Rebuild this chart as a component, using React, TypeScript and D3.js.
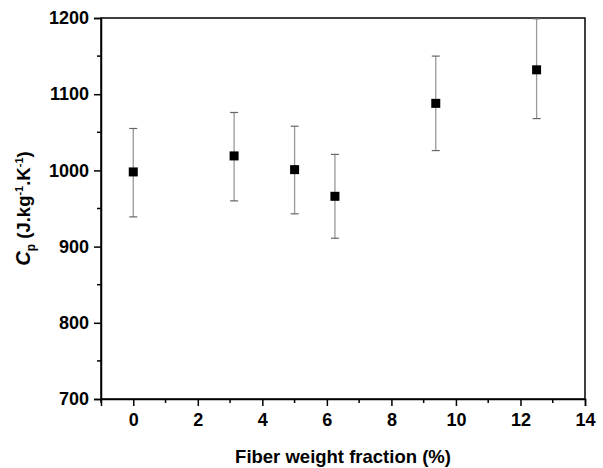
import React, { useEffect, useRef } from 'react';
import * as d3 from 'd3';

// fiber weight fraction (%)
const fractions = [0, 3.125, 5, 6.25, 9.375, 12.5];
// specific heat Cp (J/kg.K)
const cpValues = [998, 1019, 1001, 966, 1088, 1132];
const cpUpper = [1055, 1076, 1058, 1021, 1150, 1199];
const cpLower = [939, 960, 943, 911, 1026, 1068];

const xTicks = [0, 2, 4, 6, 8, 10, 12, 14];
const yTicks = [700, 800, 900, 1000, 1100, 1200];
const xMinor = [-1, 1, 3, 5, 7, 9, 11, 13];
const yMinor = [750, 850, 950, 1050, 1150];

const App: React.FC = () => {
  const svgRef = useRef<SVGSVGElement>(null);

  useEffect(() => {
    if (!svgRef.current) return;
    const svg = d3.select(svgRef.current);
    svg.selectAll('*').remove();

    const width = 603;
    const height = 468;
    const margin = { top: 18, right: 18, bottom: 69, left: 101 };
    const font = 'Arial, "Liberation Sans", sans-serif';

    const x = d3.scaleLinear()
      .domain([-1, 14])
      .range([margin.left, width - margin.right]);

    const y = d3.scaleLinear()
      .domain([700, 1200])
      .range([height - margin.bottom, margin.top]);

    // frame
    svg.append('rect')
      .attr('x', x(-1))
      .attr('y', y(1200))
      .attr('width', x(14) - x(-1))
      .attr('height', y(700) - y(1200))
      .attr('fill', 'none')
      .attr('stroke', '#000')
      .attr('stroke-width', 1.5);

    // X axis
    const gx = svg.append('g')
      .attr('transform', `translate(0,${y(700)})`);
    gx.call(d3.axisBottom(x).tickValues(xTicks).tickSize(7).tickPadding(7).tickFormat(d3.format('d')))
      .call(g => g.select('.domain').attr('stroke-width', 1.5));
    gx.selectAll('.tick line').attr('stroke-width', 1.5);
    gx.selectAll('.tick text')
      .attr('font-family', font)
      .attr('font-size', 18)
      .attr('font-weight', 'bold')
      .attr('fill', '#000');
    gx.selectAll('.minor')
      .data(xMinor)
      .enter()
      .append('line')
      .attr('x1', d => x(d))
      .attr('x2', d => x(d))
      .attr('y1', 0)
      .attr('y2', 4)
      .attr('stroke', '#000')
      .attr('stroke-width', 1.5);

    // Y axis
    const gy = svg.append('g')
      .attr('transform', `translate(${x(-1)},0)`);
    gy.call(d3.axisLeft(y).tickValues(yTicks).tickSize(7).tickPadding(5).tickFormat(d3.format('d')))
      .call(g => g.select('.domain').attr('stroke-width', 1.5));
    gy.selectAll('.tick line').attr('stroke-width', 1.5);
    gy.selectAll('.tick text')
      .attr('font-family', font)
      .attr('font-size', 18)
      .attr('font-weight', 'bold')
      .attr('fill', '#000');
    gy.selectAll('.minor')
      .data(yMinor)
      .enter()
      .append('line')
      .attr('x1', 0)
      .attr('x2', -4)
      .attr('y1', d => y(d))
      .attr('y2', d => y(d))
      .attr('stroke', '#000')
      .attr('stroke-width', 1.5);

    // axis titles
    svg.append('text')
      .attr('x', (x(-1) + x(14)) / 2)
      .attr('y', 463)
      .attr('text-anchor', 'middle')
      .attr('font-family', font)
      .attr('font-size', 18.5)
      .attr('font-weight', 'bold')
      .attr('fill', '#000')
      .text('Fiber weight fraction (%)');

    const yl = svg.append('text')
      .attr('transform', `translate(30,${(y(700) + y(1200)) / 2}) rotate(-90)`)
      .attr('text-anchor', 'middle')
      .attr('font-family', font)
      .attr('font-size', 18.5)
      .attr('font-weight', 'bold')
      .attr('fill', '#000');
    yl.append('tspan').attr('font-style', 'italic').attr('font-size', 20).text('C');
    yl.append('tspan').attr('font-size', 12).attr('dy', 5).text('p');
    yl.append('tspan').attr('dy', -5).text(' (J.kg');
    yl.append('tspan').attr('font-size', 11).attr('dy', -7).text('-1');
    yl.append('tspan').attr('dy', 7).text('.K');
    yl.append('tspan').attr('font-size', 11).attr('dy', -7).text('-1');
    yl.append('tspan').attr('dy', 7).text(')');

    const data = fractions.map((f, i) => ({
      f, v: cpValues[i], hi: cpUpper[i], lo: cpLower[i],
    }));

    // error bars
    const eb = svg.append('g');
    eb.selectAll('line.stem')
      .data(data)
      .enter()
      .append('line')
      .attr('x1', d => x(d.f))
      .attr('x2', d => x(d.f))
      .attr('y1', d => y(d.hi))
      .attr('y2', d => y(d.lo))
      .attr('stroke', '#999')
      .attr('stroke-width', 1.3);
    const capW = 4;
    ['hi', 'lo'].forEach(k => {
      eb.selectAll(`line.cap-${k}`)
        .data(data)
        .enter()
        .append('line')
        .attr('x1', d => x(d.f) - capW)
        .attr('x2', d => x(d.f) + capW)
        .attr('y1', d => y((d as any)[k]))
        .attr('y2', d => y((d as any)[k]))
        .attr('stroke', '#666')
        .attr('stroke-width', 1.2);
    });

    // markers
    const s = 9;
    svg.append('g')
      .selectAll('rect')
      .data(data)
      .enter()
      .append('rect')
      .attr('x', d => x(d.f) - s / 2)
      .attr('y', d => y(d.v) - s / 2)
      .attr('width', s)
      .attr('height', s)
      .attr('fill', '#000');
  }, []);

  return (
    <svg
      ref={svgRef}
      width={603}
      height={468}
      style={{ position: 'absolute', left: 0, top: 0, background: '#fff' }}
    />
  );
};

export default App;
